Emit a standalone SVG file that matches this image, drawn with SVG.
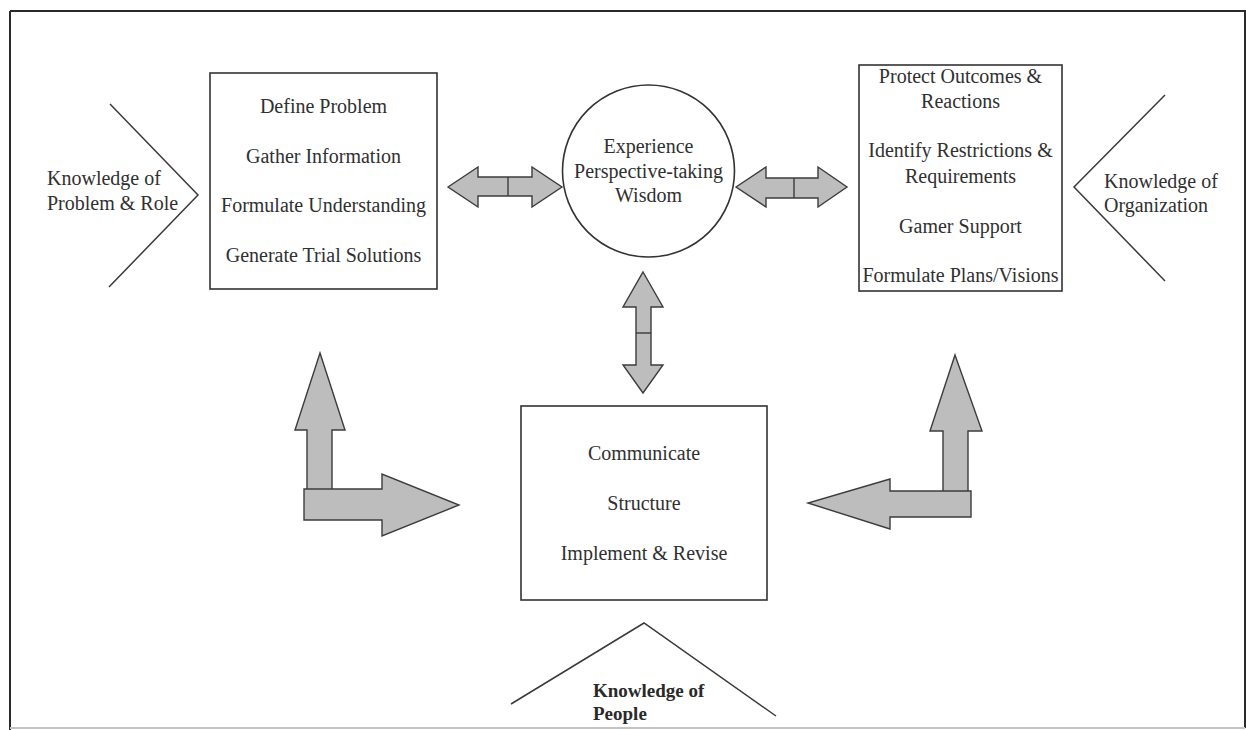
<svg xmlns="http://www.w3.org/2000/svg" width="1246" height="730" viewBox="0 0 1246 730">
  <defs>
    <style>
      .bg { fill: #ffffff; }
      .frame { stroke: #2a2a2a; stroke-width: 2; fill: none; }
      .frame-light { stroke: #c4c4c4; stroke-width: 2; fill: none; }
      .box { fill: none; stroke: #333333; stroke-width: 1.6; }
      .wedge { fill: none; stroke: #3a3a3a; stroke-width: 1.5; }
      .arrow { fill: #bdbdbd; stroke: #3c3c3c; stroke-width: 1.4; stroke-linejoin: miter; }
      .divider { stroke: #3c3c3c; stroke-width: 1.4; }
      .label { font-family: "Liberation Serif", "Times New Roman", serif; font-size: 20px; fill: #303030; }
      .mid { text-anchor: middle; }
      .strong { font-weight: bold; font-size: 19px; fill: #2a2a2a; }
    </style>
  </defs>

  <rect class="bg" x="0" y="0" width="1246" height="730"/>

  <!-- outer frame -->
  <g id="frame">
    <line class="frame" x1="10" y1="11" x2="1246" y2="11"/>
    <line class="frame" x1="10" y1="11" x2="10" y2="730"/>
    <line class="frame" x1="1245" y1="11" x2="1245" y2="728"/>
    <line class="frame-light" x1="10" y1="728" x2="1245" y2="728"/>
  </g>

  <!-- problem-solving steps -->
  <g id="node-problem">
    <rect class="box" x="210" y="73" width="227" height="216"/>
    <text class="label mid" x="323.5" y="113">Define Problem</text>
    <text class="label mid" x="323.5" y="163">Gather Information</text>
    <text class="label mid" x="323.5" y="212">Formulate Understanding</text>
    <text class="label mid" x="323.5" y="262">Generate Trial Solutions</text>
  </g>

  <!-- central qualities -->
  <g id="node-wisdom">
    <circle class="box" cx="648.5" cy="171" r="86"/>
    <text class="label mid" x="648.5" y="153">Experience</text>
    <text class="label mid" x="648.5" y="178">Perspective-taking</text>
    <text class="label mid" x="648.5" y="202">Wisdom</text>
  </g>

  <!-- organizational steps -->
  <g id="node-organization">
    <rect class="box" x="859" y="65" width="203" height="226"/>
    <text class="label mid" x="960.5" y="83">Protect Outcomes &amp;</text>
    <text class="label mid" x="960.5" y="108">Reactions</text>
    <text class="label mid" x="960.5" y="157">Identify Restrictions &amp;</text>
    <text class="label mid" x="960.5" y="183">Requirements</text>
    <text class="label mid" x="960.5" y="233">Gamer Support</text>
    <text class="label mid" x="960.5" y="282">Formulate Plans/Visions</text>
  </g>

  <!-- people steps -->
  <g id="node-people">
    <rect class="box" x="521" y="406" width="246" height="194"/>
    <text class="label mid" x="644" y="460">Communicate</text>
    <text class="label mid" x="644" y="510">Structure</text>
    <text class="label mid" x="644" y="560">Implement &amp; Revise</text>
  </g>

  <!-- knowledge wedges -->
  <g id="knowledge-problem">
    <polyline class="wedge" points="110,104 198,195 109,287"/>
    <text class="label" x="47" y="185">Knowledge of</text>
    <text class="label" x="47" y="210">Problem &amp; Role</text>
  </g>
  <g id="knowledge-organization">
    <polyline class="wedge" points="1165,95 1074,187 1165,281"/>
    <text class="label" x="1104" y="188">Knowledge of</text>
    <text class="label" x="1104" y="212">Organization</text>
  </g>
  <g id="knowledge-people">
    <polyline class="wedge" points="511,704 644,623 776,716"/>
    <text class="label strong" x="593" y="697">Knowledge of</text>
    <text class="label strong" x="593" y="720">People</text>
  </g>

  <!-- block arrows -->
  <g id="connectors">
    <!-- problem box <-> circle -->
    <polygon class="arrow" points="448,187 478,167 478,177 532,177 532,167 562,187 532,207 532,196 478,196 478,207"/>
    <line class="divider" x1="508" y1="177" x2="508" y2="196"/>

    <!-- circle <-> organization box -->
    <polygon class="arrow" points="736,187 766,167 766,178 818,178 818,167 847,187 818,207 818,198 766,198 766,207"/>
    <line class="divider" x1="794" y1="178" x2="794" y2="198"/>

    <!-- circle <-> people box -->
    <polygon class="arrow" points="643,272 663,307 651,307 651,365 663,365 643,393 623,365 636,365 636,307 623,307"/>
    <line class="divider" x1="636" y1="333" x2="651" y2="333"/>

    <!-- left corner arrow: up to problem box, right to people box -->
    <polygon class="arrow" points="320,353 345,430 332,430 332,505 307,505 307,430 295,430"/>
    <polygon class="arrow" points="304,489 382,489 382,474 459,505 382,536 382,520 304,520"/>

    <!-- right corner arrow: up to organization box, left to people box -->
    <polygon class="arrow" points="955,355 982,431 968,431 968,505 943,505 943,431 930,431"/>
    <polygon class="arrow" points="971,491 890,491 890,479 808,503 890,529 890,517 971,517"/>
  </g>
</svg>
